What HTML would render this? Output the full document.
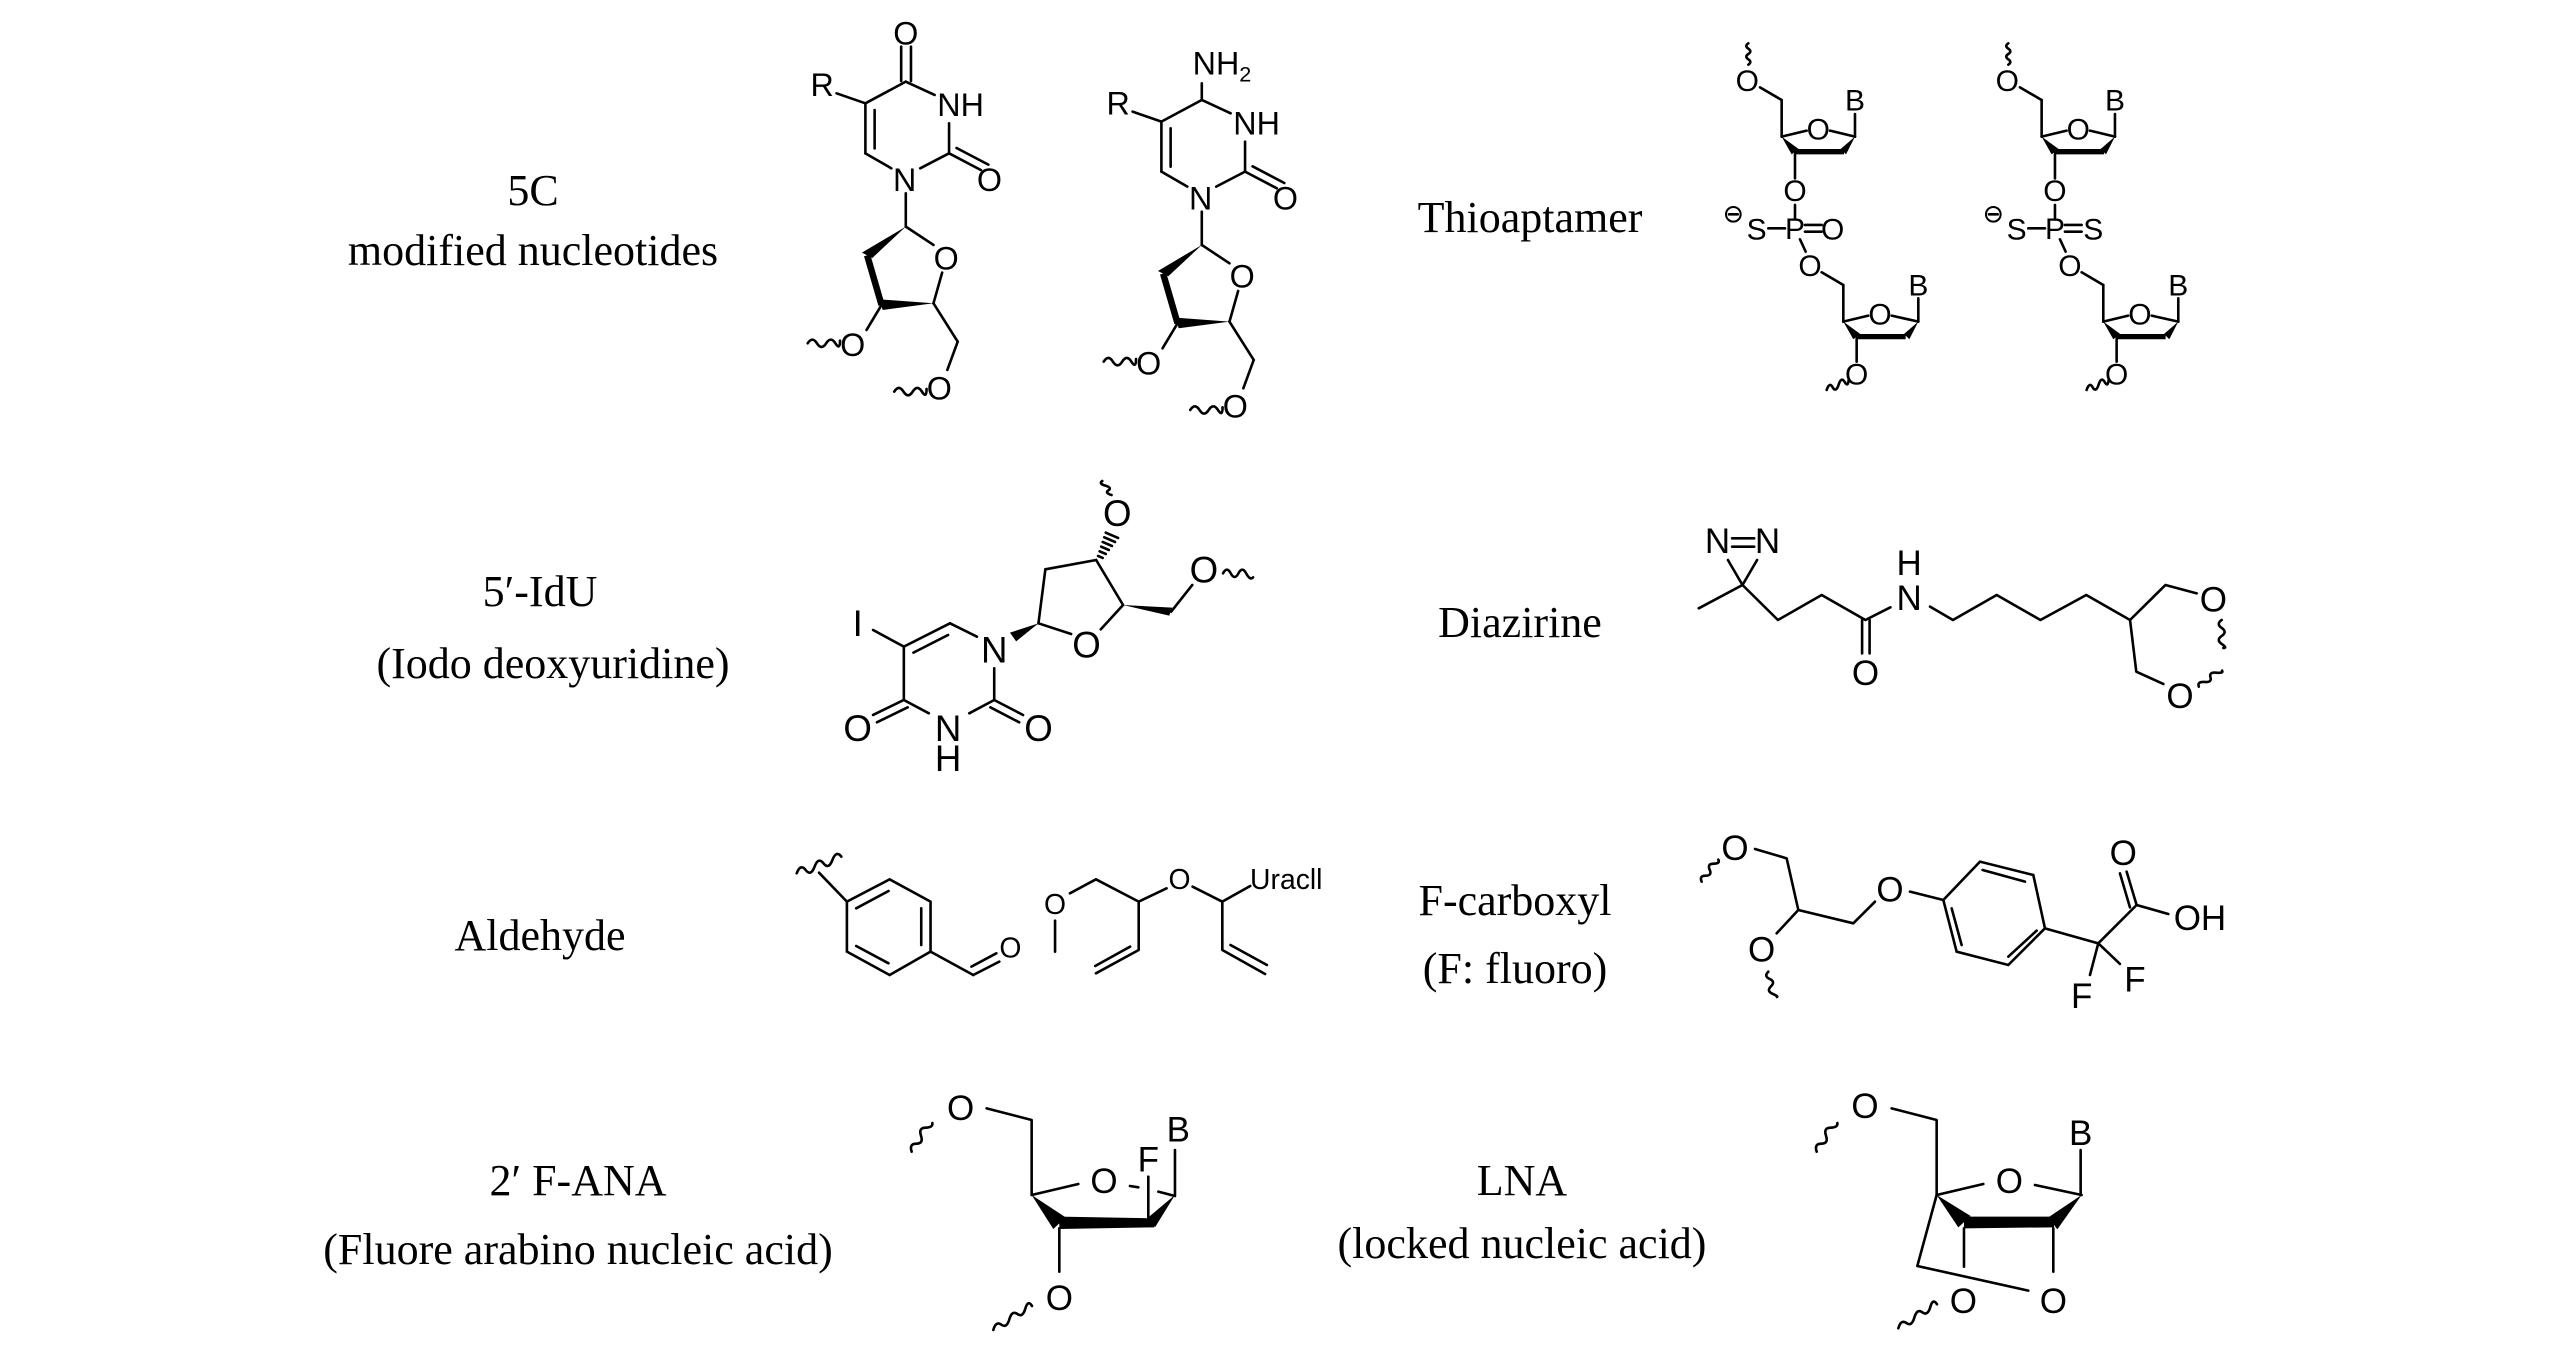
<!DOCTYPE html>
<html><head><meta charset="utf-8">
<style>
html,body{margin:0;padding:0;background:#fff;}
svg{display:block;}
.b line,.b path,.b polyline{stroke:#000;fill:none;stroke-width:2.6;vector-effect:non-scaling-stroke;stroke-linecap:round;stroke-linejoin:round;}
.b .th{stroke-width:6.5;stroke-linecap:butt;}
.b polygon{fill:#000;stroke:none;}
.a{font-family:"Liberation Sans",Arial,sans-serif;text-anchor:middle;dominant-baseline:central;fill:#000;}
.lab{font-family:"Liberation Serif","Times New Roman",serif;font-size:44px;text-anchor:middle;fill:#000;}
</style></head>
<body>
<svg width="2567" height="1356" viewBox="0 0 2567 1356" xmlns="http://www.w3.org/2000/svg">
<rect width="2567" height="1356" fill="#fff"/>

<!-- Labels -->
<text class="lab" x="533" y="205">5C</text>
<text class="lab" x="533" y="265">modified nucleotides</text>
<text class="lab" x="1530" y="232">Thioaptamer</text>
<text class="lab" x="540" y="606">5′-IdU</text>
<text class="lab" x="553" y="678">(Iodo deoxyuridine)</text>
<text class="lab" x="1520" y="637">Diazirine</text>
<text class="lab" x="540" y="950">Aldehyde</text>
<text class="lab" x="1515" y="915">F-carboxyl</text>
<text class="lab" x="1515" y="983">(F: fluoro)</text>
<text class="lab" x="578" y="1195">2′ F-ANA</text>
<text class="lab" x="578" y="1264">(Fluore arabino nucleic acid)</text>
<text class="lab" x="1522" y="1195">LNA</text>
<text class="lab" x="1522" y="1258">(locked nucleic acid)</text>

<!-- 5C nucleotides (zoom1 space) -->
<g class="b" transform="translate(750,0) scale(0.577,0.3333)">
 <g id="sugA">
  <line x1="270" y1="580" x2="270" y2="680"/>
  <polygon points="270,680 194,758 212,774"/>
  <line class="th" x1="203" y1="766" x2="228" y2="915"/>
  <polygon points="318,910 224,898 230,930"/>
  <line x1="270" y1="680" x2="318" y2="735"/>
  <line x1="333" y1="818" x2="318" y2="910"/>
  <line x1="228" y1="915" x2="202" y2="990"/>
  <line x1="318" y1="910" x2="360" y2="1025"/>
  <line x1="360" y1="1025" x2="342" y2="1110"/>
  <path d="M100,1030 q8,-22 16,0 t16,0 t16,0 t8,-8"/>
  <path d="M250,1175 q8,-22 16,0 t16,0 t16,0 t8,-8"/>
  <line x1="200" y1="310" x2="270" y2="245"/>
  <line x1="270" y1="245" x2="320" y2="285"/>
  <line x1="345" y1="370" x2="345" y2="460"/>
  <line x1="345" y1="460" x2="400" y2="510"/>
  <line x1="358" y1="444" x2="413" y2="494"/>
  <line x1="345" y1="460" x2="295" y2="505"/>
  <line x1="200" y1="460" x2="245" y2="505"/>
  <line x1="200" y1="310" x2="200" y2="460"/>
  <line x1="216" y1="330" x2="216" y2="445"/>
  <line x1="150" y1="280" x2="200" y2="310"/>
  <g class="a" font-size="97">
   <text transform="translate(125,255) scale(0.577,1)">R</text>
   <text transform="translate(365,315) scale(0.577,1)">NH</text>
   <text transform="translate(415,540) scale(0.577,1)">O</text>
   <text transform="translate(268,540) scale(0.577,1)">N</text>
   <text transform="translate(340,775) scale(0.577,1)">O</text>
   <text transform="translate(178,1035) scale(0.577,1)">O</text>
   <text transform="translate(328,1165) scale(0.577,1)">O</text>
  </g>
 </g>
 <line x1="262" y1="140" x2="262" y2="243"/>
 <line x1="279" y1="140" x2="279" y2="243"/>
 <text class="a" font-size="97" transform="translate(270,100) scale(0.577,1)">O</text>
 <g transform="translate(513,55)">
  <use href="#sugA"/>
  <line x1="270" y1="245" x2="270" y2="195"/>
  <text class="a" font-size="97" transform="translate(305,135) scale(0.577,1)">NH<tspan font-size="65" dy="30">2</tspan></text>
 </g>
</g>

<!-- Thioaptamer (zoom2 space) -->
<g class="b" transform="translate(1720,30) scale(0.3333)">
 <g id="thio">
  <path d="M85,40 q-12,8 0,16 t0,16 t0,16 t0,16"/>
  <line x1="120" y1="172" x2="185" y2="210"/>
  <line x1="185" y1="210" x2="185" y2="320"/>
  <line x1="185" y1="320" x2="260" y2="302"/>
  <line x1="330" y1="302" x2="405" y2="320"/>
  <line x1="405" y1="320" x2="405" y2="252"/>
  <polygon points="185,320 215,373 236,357"/>
  <polygon points="222,357 372,357 372,373 222,373"/>
  <polygon points="405,320 362,357 378,373"/>
  <line x1="225" y1="373" x2="225" y2="445"/>
  <line x1="225" y1="525" x2="225" y2="568"/>
  <line x1="145" y1="595" x2="195" y2="595"/>
  <line x1="240" y1="628" x2="257" y2="665"/>
  <line x1="305" y1="727" x2="370" y2="765"/>
  <line x1="370" y1="765" x2="370" y2="875"/>
  <line x1="370" y1="875" x2="445" y2="857"/>
  <line x1="515" y1="857" x2="595" y2="875"/>
  <line x1="595" y1="875" x2="595" y2="805"/>
  <polygon points="370,875 400,928 421,912"/>
  <polygon points="407,912 557,912 557,928 407,928"/>
  <polygon points="595,875 552,912 568,928"/>
  <line x1="410" y1="928" x2="410" y2="995"/>
  <path d="M320,1080 q8,-25 18,-8 t18,-8 t18,-8 t12,-6"/>
  <circle cx="40" cy="553" r="22" fill="none" stroke="#000" stroke-width="2" vector-effect="non-scaling-stroke"/>
  <line x1="27" y1="553" x2="53" y2="553"/>
  <g class="a" font-size="90">
   <text x="82" y="155">O</text>
   <text x="295" y="300">O</text>
   <text x="405" y="213">B</text>
   <text x="225" y="485">O</text>
   <text x="225" y="598">P</text>
   <text x="110" y="600">S</text>
   <text x="270" y="710">O</text>
   <text x="480" y="855">O</text>
   <text x="595" y="768">B</text>
   <text x="410" y="1035">O</text>
  </g>
 </g>
 <line x1="255" y1="585" x2="305" y2="585"/>
 <line x1="255" y1="605" x2="305" y2="605"/>
 <text class="a" font-size="90" x="338" y="600">O</text>
 <g transform="translate(780,0)">
  <use href="#thio"/>
  <line x1="255" y1="585" x2="305" y2="585"/>
  <line x1="255" y1="605" x2="305" y2="605"/>
  <text class="a" font-size="90" x="340" y="600">S</text>
 </g>
</g>

<!-- IdU (zoom3 space) -->
<g class="b" transform="translate(800,480) scale(0.3846,0.3333)">
 <line x1="190" y1="450" x2="270" y2="500"/>
 <line x1="270" y1="500" x2="390" y2="430"/>
 <line x1="295" y1="518" x2="385" y2="465"/>
 <line x1="390" y1="430" x2="460" y2="470"/>
 <line x1="505" y1="565" x2="505" y2="660"/>
 <line x1="505" y1="660" x2="580" y2="705"/>
 <line x1="495" y1="682" x2="570" y2="727"/>
 <line x1="505" y1="660" x2="440" y2="700"/>
 <line x1="335" y1="700" x2="270" y2="660"/>
 <line x1="270" y1="660" x2="190" y2="705"/>
 <line x1="280" y1="682" x2="200" y2="727"/>
 <line x1="270" y1="660" x2="270" y2="500"/>
 <polygon points="620,430 546,458 562,484"/>
 <line x1="620" y1="430" x2="638" y2="268"/>
 <line x1="638" y1="268" x2="770" y2="240"/>
 <line x1="770" y1="240" x2="840" y2="375"/>
 <line x1="840" y1="375" x2="782" y2="448"/>
 <line x1="705" y1="462" x2="620" y2="430"/>
 <g stroke="#000">
  <line x1="775" y1="228" x2="787" y2="234"/>
  <line x1="779" y1="214" x2="795" y2="222"/>
  <line x1="783" y1="200" x2="803" y2="210"/>
  <line x1="787" y1="186" x2="811" y2="198"/>
  <line x1="791" y1="172" x2="819" y2="186"/>
  <line x1="795" y1="158" x2="827" y2="174"/>
 </g>
 <path d="M810,45 q-18,-6 -8,-14 t-8,-14 t-8,-14"/>
 <polygon points="840,375 968,383 960,407"/>
 <line x1="965" y1="395" x2="1020" y2="315"/>
 <path d="M1100,280 q10,-22 20,0 t20,0 t20,0 t18,12"/>
 <g class="a" font-size="110">
  <text transform="translate(150,430) scale(0.867,1)">I</text>
  <text transform="translate(505,510) scale(0.867,1)">N</text>
  <text transform="translate(620,745) scale(0.867,1)">O</text>
  <text transform="translate(385,745) scale(0.867,1)">N</text>
  <text transform="translate(385,835) scale(0.867,1)">H</text>
  <text transform="translate(150,745) scale(0.867,1)">O</text>
  <text transform="translate(745,495) scale(0.867,1)">O</text>
  <text transform="translate(825,100) scale(0.867,1)">O</text>
  <text transform="translate(1050,270) scale(0.867,1)">O</text>
 </g>
</g>

<!-- Diazirine (zoom4 space) -->
<g class="b" transform="translate(1680,500) scale(0.4167,0.3333)">
 <line x1="125" y1="115" x2="178" y2="115"/>
 <line x1="125" y1="140" x2="178" y2="140"/>
 <line x1="115" y1="180" x2="150" y2="255"/>
 <line x1="185" y1="180" x2="150" y2="255"/>
 <polyline points="45,325 150,255 235,360 340,285 445,360 505,322"/>
 <line x1="437" y1="360" x2="437" y2="460"/>
 <line x1="455" y1="360" x2="455" y2="460"/>
 <polyline points="600,320 655,360 760,285 865,360 975,285 1080,360 1165,255 1240,280"/>
 <polyline points="1080,360 1095,515 1160,552"/>
 <path d="M1300,360 q-14,12 0,24 t0,24 t0,24 t4,12"/>
 <path d="M1245,560 q-4,-16 14,-14 t14,-14 t14,-14 t14,-6"/>
 <g class="a" font-size="105">
  <text transform="translate(90,125) scale(0.8,1)">N</text>
  <text transform="translate(210,125) scale(0.8,1)">N</text>
  <text transform="translate(445,520) scale(0.8,1)">O</text>
  <text transform="translate(550,295) scale(0.8,1)">N</text>
  <text transform="translate(550,190) scale(0.8,1)">H</text>
  <text transform="translate(1280,300) scale(0.8,1)">O</text>
  <text transform="translate(1200,590) scale(0.8,1)">O</text>
 </g>
</g>

<!-- Aldehyde (zoom5 space) -->
<g class="b" transform="translate(780,830) scale(0.3717,0.3333)">
 <path d="M45,130 q10,-30 24,-10 t24,-10 t24,-10 t24,-10 t24,-10"/>
 <line x1="105" y1="128" x2="180" y2="215"/>
 <polygon points="180,215 295,148 405,215 405,365 295,435 180,365" style="fill:none;stroke:#000;stroke-width:2.6;vector-effect:non-scaling-stroke"/>
 <line x1="205" y1="235" x2="292" y2="183"/>
 <line x1="380" y1="235" x2="380" y2="345"/>
 <line x1="205" y1="348" x2="292" y2="400"/>
 <line x1="405" y1="365" x2="520" y2="435"/>
 <line x1="520" y1="435" x2="590" y2="395"/>
 <line x1="515" y1="410" x2="582" y2="370"/>
 <line x1="740" y1="272" x2="740" y2="365"/>
 <polyline points="780,190 850,148 965,215 1040,175"/>
 <polyline points="1110,170 1190,215 1265,168"/>
 <polyline points="965,215 965,360 850,430"/>
 <line x1="848" y1="408" x2="942" y2="350"/>
 <polyline points="1190,215 1190,360 1305,432"/>
 <line x1="1212" y1="345" x2="1310" y2="405"/>
 <g class="a" font-size="85">
  <text transform="translate(620,355) scale(0.897,1)">O</text>
  <text transform="translate(740,225) scale(0.897,1)">O</text>
  <text transform="translate(1075,150) scale(0.897,1)">O</text>
  <text transform="translate(1362,150) scale(0.897,1)">Uracll</text>
 </g>
</g>

<!-- F-carboxyl (zoom6 space) -->
<g class="b" transform="translate(1680,820) scale(0.3333)">
 <path d="M65,185 q-8,-18 12,-18 t12,-18 t12,-18 t14,-12"/>
 <polyline points="225,87 320,115 355,270 290,340"/>
 <path d="M265,455 q-14,14 4,22 t4,22 t4,22 t14,10"/>
 <polyline points="355,270 520,310 585,245"/>
 <line x1="690" y1="215" x2="790" y2="240"/>
 <polygon points="790,240 900,125 1060,165 1095,325 985,435 830,395" style="fill:none;stroke:#000;stroke-width:2.6;vector-effect:non-scaling-stroke"/>
 <line x1="908" y1="150" x2="1035" y2="185"/>
 <line x1="1070" y1="332" x2="985" y2="410"/>
 <line x1="815" y1="265" x2="845" y2="375"/>
 <line x1="1095" y1="325" x2="1255" y2="370"/>
 <line x1="1255" y1="370" x2="1370" y2="255"/>
 <line x1="1370" y1="255" x2="1340" y2="155"/>
 <line x1="1350" y1="262" x2="1320" y2="160"/>
 <line x1="1370" y1="255" x2="1465" y2="282"/>
 <line x1="1255" y1="370" x2="1230" y2="465"/>
 <line x1="1255" y1="370" x2="1320" y2="432"/>
 <g class="a" font-size="105">
  <text x="165" y="85">O</text>
  <text x="245" y="390">O</text>
  <text x="630" y="210">O</text>
  <text x="1330" y="100">O</text>
  <text x="1560" y="295">OH</text>
  <text x="1205" y="530">F</text>
  <text x="1365" y="480">F</text>
 </g>
</g>

<!-- 2' F-ANA (zoom7 space) -->
<g class="b" transform="translate(900,1080) scale(0.3333)">
 <path d="M35,215 q-8,-24 14,-24 t14,-24 t14,-24 t20,-14"/>
 <polyline points="260,85 395,120 395,345 535,312"/>
 <line x1="690" y1="318" x2="715" y2="322"/>
 <line x1="745" y1="290" x2="745" y2="412"/>
 <line x1="775" y1="335" x2="825" y2="348"/>
 <line x1="825" y1="210" x2="825" y2="345"/>
 <polygon points="395,345 460,447 497,412"/>
 <polygon points="478,410 762,415 762,442 478,447"/>
 <polygon points="825,345 745,412 765,442"/>
 <line x1="478" y1="445" x2="478" y2="575"/>
 <path d="M280,750 q8,-28 24,-16 t24,-16 t24,-16 t24,-16 t20,-8"/>
 <g class="a" font-size="105">
  <text x="182" y="85">O</text>
  <text x="612" y="305">O</text>
  <text x="745" y="240">F</text>
  <text x="835" y="150">B</text>
  <text x="478" y="655">O</text>
 </g>
</g>

<!-- LNA (zoom8 space) -->
<g class="b" transform="translate(1810,1080) scale(0.3333)">
 <path d="M20,215 q-8,-24 14,-24 t14,-24 t14,-24 t20,-14"/>
 <polyline points="245,85 380,120 380,345 520,312"/>
 <line x1="675" y1="315" x2="815" y2="345"/>
 <line x1="812" y1="210" x2="812" y2="345"/>
 <polygon points="380,345 445,442 482,408"/>
 <polygon points="462,410 732,410 732,442 462,445"/>
 <polygon points="815,345 715,412 742,448"/>
 <line x1="462" y1="445" x2="462" y2="560"/>
 <line x1="730" y1="445" x2="730" y2="575"/>
 <polyline points="380,345 322,558 655,632"/>
 <path d="M265,745 q8,-28 24,-16 t24,-16 t24,-16 t24,-16 t20,-8"/>
 <g class="a" font-size="105">
  <text x="165" y="80">O</text>
  <text x="598" y="305">O</text>
  <text x="812" y="160">B</text>
  <text x="730" y="665">O</text>
  <text x="460" y="665">O</text>
 </g>
</g>
</svg>
</body></html>
